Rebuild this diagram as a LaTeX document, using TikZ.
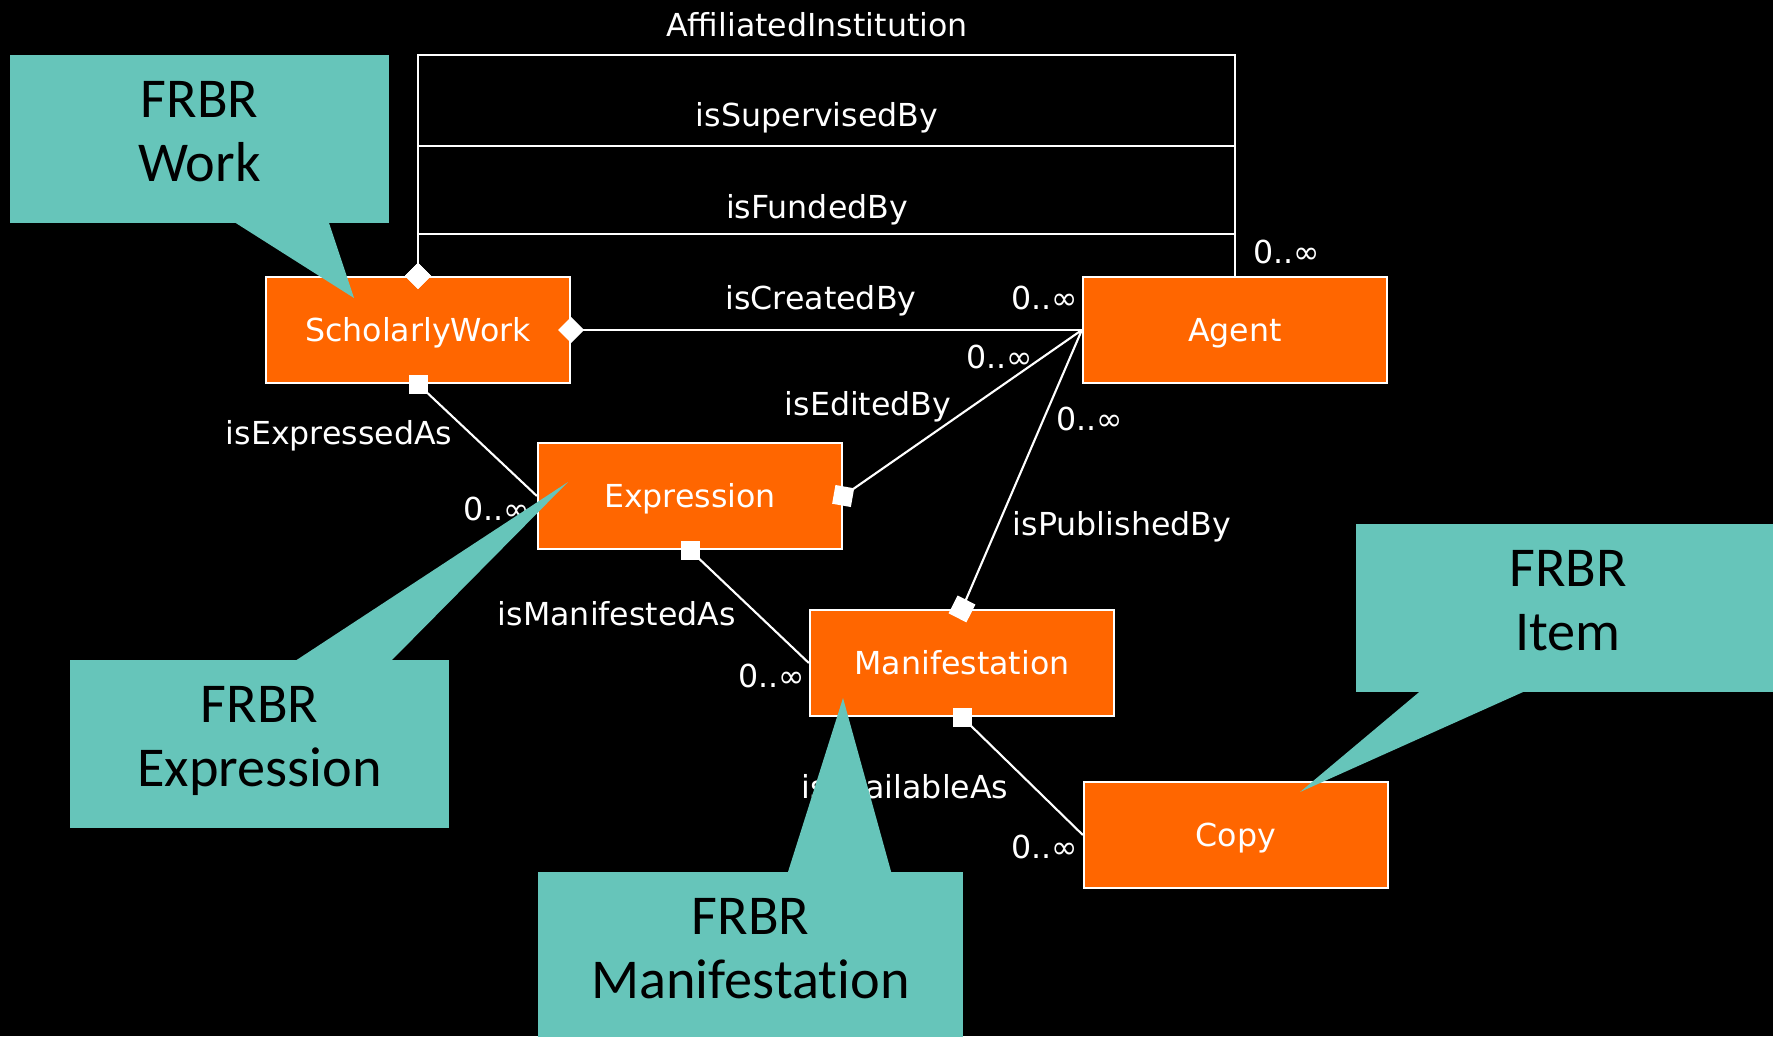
\documentclass[tikz,border=0pt]{standalone}
\usepackage{fontspec}
\setmainfont{DejaVu Sans}
\newfontfamily\callfont{Carlito}[Ligatures=NoCommon]
\usepackage{xcolor}
\usetikzlibrary{positioning,arrows.meta}
\definecolor{clsorange}{RGB}{255,102,0}
\definecolor{noteteal}{RGB}{102,197,186}

\begin{document}
\begin{tikzpicture}[x=0.01cm,y=-0.01cm,
  c/.style={draw=white,line width=0.6pt,fill=clsorange,text=white,font=\fontsize{9}{11}\selectfont,minimum width=3.04cm,minimum height=1.06cm,inner sep=0pt,text height=6.6pt,text depth=0pt},
  lb/.style={text=white,font=\fontsize{9}{11}\selectfont,inner sep=0pt,text height=6.6pt,text depth=0pt},
  ln/.style={draw=white,line width=0.6pt},
  dia/.style={ln,arrows={Diamond[length=2.6mm,width=2.6mm]-},shorten <=-1.3mm},
  mk/.style={fill=white,minimum size=1.9mm,inner sep=0pt},
  note/.style={fill=noteteal,text=black,font=\callfont\fontsize{16}{18.2}\selectfont,align=center,inner sep=0pt,text depth=4.5pt}]
\fill[black] (0,0) rectangle (1773,1036);
\useasboundingbox (0,0) rectangle (1773,1036);
% classes
\node[c] (sw) at (418,330) {ScholarlyWork};
\node[c] (ag) at (1235,330) {Agent};
\node[c] (ex) at (690,496) {Expression};
\node[c] (ma) at (962,663) {Manifestation};
\node[c] (cp) at (1236,835) {Copy};
% associations
\coordinate (l1) at (0,55); \coordinate (l2) at (0,146); \coordinate (l3) at (0,234);
\draw[dia] (sw.north) |- (ag.north |- l1) -- (ag.north);
\draw[dia] (sw.north) |- (ag.north |- l2) -- (ag.north);
\draw[dia] (sw.north) |- (ag.north |- l3) -- (ag.north);
\draw[dia] (sw.east) -- (ag.west);
\draw[ln] (ex.east) -- (ag.west);
\draw[ln] (ma.north) -- (ag.west);
\draw[ln] (sw.south) -- (ex.west);
\draw[ln] (ex.south) -- (ma.west);
\draw[ln] (ma.south) -- (cp.west);
\node[mk,rotate=-10] (k1) at (ex.east) {};
\node[mk,minimum size=2mm,rotate=-27] (k2) at (ma.north) {};
\node[mk] (k3) at (sw.south) {};
\node[mk] (k4) at (ex.south) {};
\node[mk] (k5) at (ma.south) {};
% role names and multiplicities
\node[lb] (r1) at (817,25) {AffiliatedInstitution};
\node[lb] (r2) at (817,115) {isSupervisedBy};
\node[lb] (r3) at (817,207) {isFundedBy};
\node[lb] (r4) at (821,298) {isCreatedBy};
\node[lb] (r5) at (868,404) {isEditedBy};
\node[lb] (r6) at (1122,524) {isPublishedBy};
\node[lb] (r7) at (339,433) {isExpressedAs};
\node[lb] (r8) at (617,614) {isManifestedAs};
\node[lb] (r9) at (905,787) {isAvailableAs};
\node[lb] (m1) at (1287,252) {0..∞};
\node[lb] (m2) at (1045,298) {0..∞};
\node[lb] (m3) at (1000,357) {0..∞};
\node[lb] (m4) at (1090,419) {0..∞};
\node[lb] (m5) at (497,509) {0..∞};
\node[lb] (m6) at (772,676) {0..∞};
\node[lb] (m7) at (1045,847) {0..∞};
% FRBR callouts
\node[note,minimum width=3.79cm,minimum height=1.68cm] (nw) at (199.5,139) {FRBR\\Work};
\fill[noteteal] (231,220) -- (354,298) -- (328,220) -- cycle;
\node[note,minimum width=3.79cm,minimum height=1.68cm] (ne) at (259.5,744) {FRBR\\Expression};
\fill[noteteal] (292,663) -- (568,482) -- (389,663) -- cycle;
\node[note,minimum width=4.25cm,minimum height=1.68cm] (nm) at (750.5,956) {FRBR\\Manifestation};
\fill[noteteal] (787,875) -- (843,698) -- (892,875) -- cycle;
\node[note,minimum width=4.24cm,minimum height=1.68cm] (ni) at (1568,608) {FRBR\\Item};
\fill[noteteal] (1424,688) -- (1300,792) -- (1532,688) -- cycle;
\end{tikzpicture}
\end{document}
